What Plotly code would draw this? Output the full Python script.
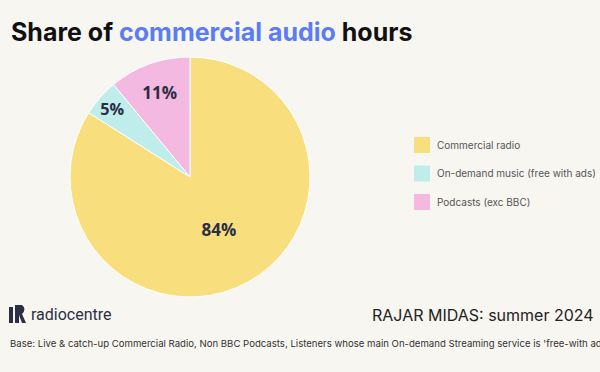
import plotly.graph_objects as go

labels = ["Commercial radio", "On-demand music (free with ads)", "Podcasts (exc BBC)"]
values = [84, 5, 11]
colors = ["#F9DE7E", "#BFEDEC", "#F4B9E1"]

BG = "#F8F6F1"
TXT = "#2B2E45"

fig = go.Figure()
fig.add_trace(go.Pie(
    labels=labels, values=values, sort=False, direction="clockwise", rotation=0,
    marker=dict(colors=colors, line=dict(color="white", width=1)),
    texttemplate="%{value}%", textposition="inside", insidetextorientation="horizontal",
    textfont=dict(family="Open Sans", size=17, color=TXT, weight="bold"),
    domain=dict(x=[70/600, 310/600], y=[(372-297)/372, (372-57)/372]),
    showlegend=False, hoverinfo="label+percent",
))

shapes = []
annotations = []
# manual legend
for i, (lab, col) in enumerate(zip(labels, colors)):
    yc = 145 + i * 28.5
    shapes.append(dict(type="rect", xref="paper", yref="paper",
                       x0=414/600, x1=430/600, y0=1-(yc+8)/372, y1=1-(yc-8)/372,
                       fillcolor=col, line=dict(width=0)))
    annotations.append(dict(x=435/600, y=1-yc/372, xref="paper", yref="paper",
                            text=lab, showarrow=False, xanchor="left", yanchor="middle",
                            font=dict(family="Inter", size=10, color="#555555")))

# title
annotations.append(dict(x=9/600, y=1-32/372, xref="paper", yref="paper", xanchor="left", yanchor="middle",
    text="Share of <span style='color:#5A7CF6'>commercial audio</span> hours", showarrow=False,
    font=dict(family="Inter", size=25, color="#111111", weight="bold")))

# footer
annotations.append(dict(x=596/600, y=1-315/372, xref="paper", yref="paper", xanchor="right", yanchor="middle",
    text="RAJAR MIDAS: summer 2024", showarrow=False,
    font=dict(family="Inter", size=16, color="#222222")))
annotations.append(dict(x=29/600, y=1-314/372, xref="paper", yref="paper", xanchor="left", yanchor="middle",
    text="radiocentre", showarrow=False,
    font=dict(family="Roboto", size=16, color="#2B2E45")))
annotations.append(dict(x=8/600, y=1-343/372, xref="paper", yref="paper", xanchor="left", yanchor="middle",
    text="Base: Live &amp; catch-up Commercial Radio, Non BBC Podcasts, Listeners whose main On-demand Streaming service is 'free-with ads'",
    showarrow=False, font=dict(family="Inter", size=9.6, color="#333333")))

# logo mark
shapes.append(dict(type="rect", xref="paper", yref="paper", x0=9/600, x1=13/600,
                   y0=1-323/372, y1=1-307/372, fillcolor="#2B2E45", line=dict(width=0)))
shapes.append(dict(type="rect", xref="paper", yref="paper", x0=15/600, x1=19/600,
                   y0=1-323/372, y1=1-305/372, fillcolor="#2B2E45", line=dict(width=0)))
shapes.append(dict(type="path", xref="paper", yref="paper",
                   path=f"M {19/600},{1-305/372} L {22/600},{1-305/372} Q {27/600},{1-309/372} {22/600},{1-314/372} L {26/600},{1-323/372} L {22/600},{1-323/372} L {19/600},{1-315/372} Z",
                   fillcolor="#2B2E45", line=dict(width=0)))

fig.update_layout(
    width=600, height=372, margin=dict(l=0, r=0, t=0, b=0),
    paper_bgcolor=BG, plot_bgcolor=BG,
    shapes=shapes, annotations=annotations,
)
fig.write_html("out.html", config={"displayModeBar": False},
               post_script="document.body.style.margin='0';document.body.style.background='#F8F6F1';")
